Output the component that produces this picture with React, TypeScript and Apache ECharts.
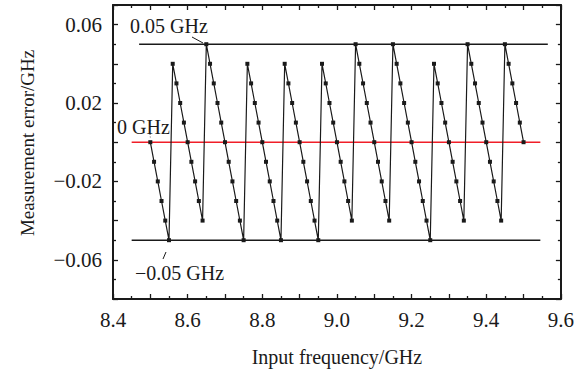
import React, { useEffect, useRef } from "react";
import * as echarts from "echarts";

const freqs = [
  8.5, 8.51, 8.52, 8.53, 8.54, 8.55,
  8.56, 8.57, 8.58, 8.59, 8.6, 8.61, 8.62, 8.63, 8.64,
  8.65, 8.66, 8.67, 8.68, 8.69, 8.7, 8.71, 8.72, 8.73, 8.74, 8.75,
  8.76, 8.77, 8.78, 8.79, 8.8, 8.81, 8.82, 8.83, 8.84, 8.85,
  8.86, 8.87, 8.88, 8.89, 8.9, 8.91, 8.92, 8.93, 8.94, 8.95,
  8.96, 8.97, 8.98, 8.99, 9.0, 9.01, 9.02, 9.03, 9.04,
  9.05, 9.06, 9.07, 9.08, 9.09, 9.1, 9.11, 9.12, 9.13, 9.14,
  9.15, 9.16, 9.17, 9.18, 9.19, 9.2, 9.21, 9.22, 9.23, 9.24, 9.25,
  9.26, 9.27, 9.28, 9.29, 9.3, 9.31, 9.32, 9.33, 9.34,
  9.35, 9.36, 9.37, 9.38, 9.39, 9.4, 9.41, 9.42, 9.43, 9.44,
  9.45, 9.46, 9.47, 9.48, 9.49, 9.5,
];

const errors = [
  0, -0.01, -0.02, -0.03, -0.04, -0.05,
  0.04, 0.03, 0.02, 0.01, 0, -0.01, -0.02, -0.03, -0.04,
  0.05, 0.04, 0.03, 0.02, 0.01, 0, -0.01, -0.02, -0.03, -0.04, -0.05,
  0.04, 0.03, 0.02, 0.01, 0, -0.01, -0.02, -0.03, -0.04, -0.05,
  0.04, 0.03, 0.02, 0.01, 0, -0.01, -0.02, -0.03, -0.04, -0.05,
  0.04, 0.03, 0.02, 0.01, 0, -0.01, -0.02, -0.03, -0.04,
  0.05, 0.04, 0.03, 0.02, 0.01, 0, -0.01, -0.02, -0.03, -0.04,
  0.05, 0.04, 0.03, 0.02, 0.01, 0, -0.01, -0.02, -0.03, -0.04, -0.05,
  0.04, 0.03, 0.02, 0.01, 0, -0.01, -0.02, -0.03, -0.04,
  0.05, 0.04, 0.03, 0.02, 0.01, 0, -0.01, -0.02, -0.03, -0.04,
  0.05, 0.04, 0.03, 0.02, 0.01, 0,
];

// reference lines: level, start frequency, end frequency
const refLevels = [0.05, 0, -0.05];
const refStarts = [8.47, 8.45, 8.45];
const refEnds = [9.565, 9.545, 9.545];
const refColors = ["#1a1a1a", "#f01e28", "#1a1a1a"];

const xLabelValues = [8.4, 8.6, 8.8, 9.0, 9.2, 9.4, 9.6];
const yLabelValues = [-0.06, -0.02, 0.02, 0.06];

const FONT = "'Liberation Serif', 'Times New Roman', serif";
const INK = "#1a1a1a";

export default function App() {
  const ref = useRef<HTMLDivElement>(null);
  useEffect(() => {
    if (!ref.current) return;
    const chart = echarts.init(ref.current, null, { renderer: "svg" });
    const axisCommon = {
      type: "value" as const,
      axisLine: { show: true, onZero: false, lineStyle: { color: INK, width: 2 } },
      splitLine: { show: false },
    };
    const tickStyle = { color: INK, width: 1.3 };
    const xFmt = (v: number) => {
      const hit = xLabelValues.find((t) => Math.abs(t - v) < 1e-6);
      return hit === undefined ? "" : hit.toFixed(1);
    };
    const yFmt = (v: number) => {
      const hit = yLabelValues.find((t) => Math.abs(t - v) < 1e-6);
      if (hit === undefined) return "";
      return (hit < 0 ? "\u2212" : "") + Math.abs(hit).toFixed(2);
    };
    const series: any[] = [
      {
        type: "line",
        data: freqs.map((f, i) => [f, errors[i]]),
        symbol: "rect",
        symbolSize: 4,
        showSymbol: true,
        itemStyle: { color: INK },
        lineStyle: { color: INK, width: 1.2 },
        z: 5,
      },
    ];
    refLevels.forEach((lv, i) => {
      series.push({
        type: "line",
        data: [
          [refStarts[i], lv],
          [refEnds[i], lv],
        ],
        symbol: "none",
        lineStyle: { color: refColors[i], width: 1.4 },
        z: i === 1 ? 3 : 4,
      });
    });
    chart.setOption({
      animation: false,
      backgroundColor: "#ffffff",
      textStyle: { fontFamily: FONT },
      grid: { left: 113, right: 13, top: 5, bottom: 67, containLabel: false },
      xAxis: [
        {
          ...axisCommon,
          position: "bottom",
          min: 8.4,
          max: 9.6,
          interval: 0.1,
          name: "Input frequency/GHz",
          nameLocation: "middle",
          nameGap: 48,
          nameTextStyle: { fontFamily: FONT, fontSize: 20, color: INK },
          axisTick: { show: true, inside: true, length: 5, lineStyle: tickStyle },
          minorTick: { show: true, splitNumber: 2, length: 3, lineStyle: tickStyle },
          axisLabel: { formatter: xFmt, fontFamily: FONT, fontSize: 21, color: INK, margin: 10, showMinLabel: true, showMaxLabel: true },
        },
        {
          ...axisCommon,
          position: "top",
          min: 8.4,
          max: 9.6,
          interval: 0.1,
          axisTick: { show: true, inside: true, length: 5, lineStyle: tickStyle },
          minorTick: { show: true, splitNumber: 2, length: 3, lineStyle: tickStyle },
          axisLabel: { show: false },
        },
      ],
      yAxis: [
        {
          ...axisCommon,
          position: "left",
          min: -0.08,
          max: 0.07,
          interval: 0.02,
          name: "Measurement error/GHz",
          nameLocation: "middle",
          nameGap: 76,
          nameTextStyle: { fontFamily: FONT, fontSize: 19, color: INK, padding: [0, 0, 0, 18] },
          axisTick: { show: true, inside: true, length: 5, lineStyle: tickStyle },
          minorTick: { show: true, splitNumber: 2, length: 3, lineStyle: tickStyle },
          axisLabel: { formatter: yFmt, fontFamily: FONT, fontSize: 21, color: INK, margin: 11 },
        },
        {
          ...axisCommon,
          position: "right",
          min: -0.08,
          max: 0.07,
          interval: 0.02,
          axisTick: { show: true, inside: true, length: 5, lineStyle: tickStyle },
          minorTick: { show: true, splitNumber: 2, length: 3, lineStyle: tickStyle },
          axisLabel: { show: false },
        },
      ],
      series,
      graphic: [
        { type: "text", left: 130, top: 16, style: { text: "0.05 GHz", font: `20px ${FONT}`, fill: INK } },
        { type: "line", shape: { x1: 192, y1: 37, x2: 203, y2: 43 }, style: { stroke: INK, lineWidth: 1 } },
        { type: "text", left: 117, top: 117, style: { text: "0 GHz", font: `20px ${FONT}`, fill: INK } },
        { type: "line", shape: { x1: 150, y1: 134, x2: 150.5, y2: 139 }, style: { stroke: "#666", lineWidth: 1, lineDash: [1, 1.5] } },
        { type: "text", left: 135, top: 263, style: { text: "\u22120.05 GHz", font: `20px ${FONT}`, fill: INK } },
        { type: "line", shape: { x1: 166, y1: 252, x2: 163, y2: 259 }, style: { stroke: INK, lineWidth: 1 } },
      ],
    });
    return () => chart.dispose();
  }, []);
  return (
    <div
      ref={ref}
      style={{ position: "absolute", left: 0, top: 0, width: 577, height: 372, background: "#fff" }}
    />
  );
}
